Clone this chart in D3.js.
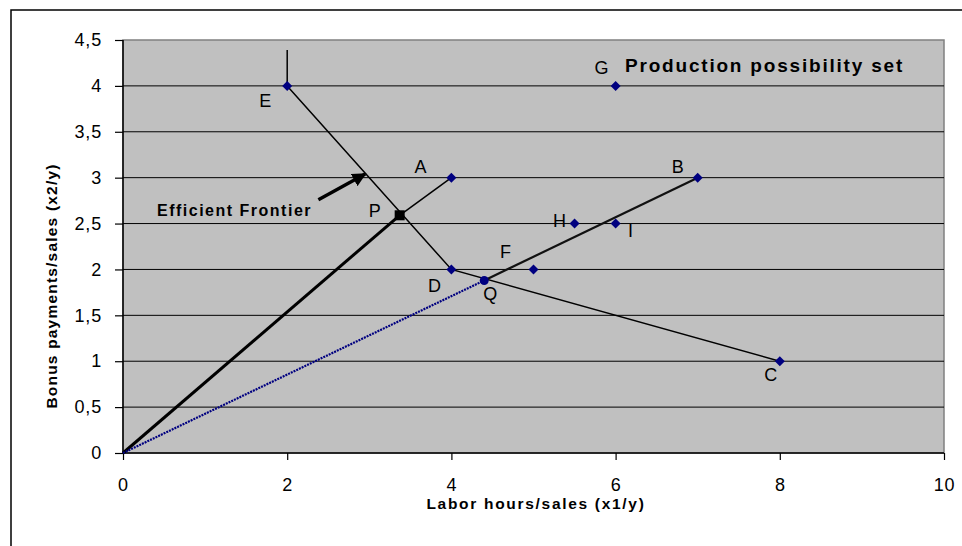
<!DOCTYPE html>
<html><head><meta charset="utf-8">
<script src="https://cdn.jsdelivr.net/npm/d3@7"></script>
<style>
body{margin:0;background:#fff;}
svg{display:block;font-family:"Liberation Sans",Arial,sans-serif;}
</style></head>
<body><svg id="chart" width="962" height="546"></svg>
<script>
// ---- data ----
const pointNames = ["A","B","C","D","E","F","G","H","I"];
const pointX = [4, 7, 8, 4, 2, 5, 6, 5.5, 6];
const pointY = [3, 3, 1, 2, 4, 2, 4, 2.5, 2.5];
const pX = 3.37, pY = 2.59;      // P
const qX = 4.40, qY = 1.88;      // Q
const eTopY = 4.39;              // vertical line above E
const frontierNames = ["E","D","C"];
const xTicks = [0,2,4,6,8,10];
const yTicks = [0,0.5,1,1.5,2,2.5,3,3.5,4,4.5];
const yTickLabels = ["0","0,5","1","1,5","2","2,5","3","3,5","4","4,5"];
const arrowFrom = [2.38, 2.76], arrowTo = [2.95, 3.04];

// ---- layout ----
const svg = d3.select("#chart");
const L = 123, R = 944, T = 40, B = 453;
const x = d3.scaleLinear().domain([0,10]).range([L,R]);
const y = d3.scaleLinear().domain([0,4.5]).range([B,T]);
const pt = n => { const i = pointNames.indexOf(n); return [pointX[i], pointY[i]]; };

// outer border
svg.append("rect").attr("x",11).attr("y",10).attr("width",1000).attr("height",600)
  .attr("fill","#fff").attr("stroke","#000").attr("stroke-width",1.5);

// plot area
svg.append("rect").attr("x",L).attr("y",T).attr("width",R-L).attr("height",B-T)
  .attr("fill","#c0c0c0").attr("stroke","#808080").attr("stroke-width",1.5);

// gridlines
svg.append("g").selectAll("line").data(yTicks.filter(v=>v>0 && v<4.5)).join("line")
  .attr("x1",L).attr("x2",R).attr("y1",d=>y(d)).attr("y2",d=>y(d))
  .attr("stroke","#000").attr("stroke-width",1);

// axes
const yAxis = d3.axisLeft(y).tickValues(yTicks).tickSize(8).tickPadding(13)
  .tickFormat((d,i)=>yTickLabels[i]);
const gy = svg.append("g").attr("transform",`translate(${L},0)`).call(yAxis);
const xAxis = d3.axisBottom(x).tickValues(xTicks).tickSize(7).tickPadding(18);
const gx = svg.append("g").attr("transform",`translate(0,${B})`).call(xAxis);
[gx,gy].forEach(g=>{
  g.select(".domain").attr("stroke","#000").attr("stroke-width",1.5);
  g.selectAll(".tick line").attr("stroke","#000").attr("stroke-width",1.2);
  g.selectAll(".tick text").attr("font-size",18).attr("fill","#000").attr("letter-spacing",0.8)
   .attr("font-family","Liberation Sans, Arial, sans-serif");
});
gx.select(".domain").attr("d",`M${L},0H${R}`);
gy.select(".domain").attr("d",`M0,${T}V${B}`);

// axis titles
svg.append("text").attr("x",536).attr("y",509).attr("text-anchor","middle")
  .attr("font-size",15.5).attr("font-weight","bold").attr("letter-spacing",1.7)
  .text("Labor hours/sales (x1/y)");
svg.append("text").attr("transform","translate(57,286) rotate(-90)").attr("text-anchor","middle")
  .attr("font-size",15.5).attr("font-weight","bold").attr("letter-spacing",1.2)
  .text("Bonus payments/sales (x2/y)");

// lines
const line = d3.line().x(d=>x(d[0])).y(d=>y(d[1]));
const E = pt("E");
svg.append("path").attr("d",line([[E[0],eTopY],E])).attr("stroke","#000").attr("stroke-width",1.5).attr("fill","none");
svg.append("path").attr("d",line(frontierNames.map(pt))).attr("stroke","#000").attr("stroke-width",1.5).attr("fill","none");
svg.append("path").attr("d",line([[pX,pY],pt("A")])).attr("stroke","#000").attr("stroke-width",1.5).attr("fill","none");
svg.append("path").attr("d",line([[0,0],[pX,pY]])).attr("stroke","#000").attr("stroke-width",3).attr("fill","none");
svg.append("path").attr("d",line([[0,0],[qX,qY]])).attr("stroke","#000080").attr("stroke-width",2.2)
  .attr("stroke-dasharray","2,1").attr("fill","none");
svg.append("path").attr("d",line([[qX,qY],pt("B")])).attr("stroke","#111").attr("stroke-width",2.2).attr("fill","none");

// markers
svg.append("g").selectAll("path").data(pointNames).join("path")
  .attr("d", d3.symbol().type(d3.symbolSquare).size(50))
  .attr("transform",(d,i)=>`translate(${x(pointX[i])},${y(pointY[i])}) rotate(45)`)
  .attr("fill","#000080");
svg.append("rect").attr("x",x(pX)-5).attr("y",y(pY)-5).attr("width",10).attr("height",10).attr("fill","#000");
svg.append("circle").attr("cx",x(qX)).attr("cy",y(qY)).attr("r",4.5).attr("fill","#000080");

// point labels (pixel offsets from their points)
const labelOffset = {A:[-31,-11],B:[-20,-11],C:[-9,14],D:[-17,17],E:[-22,15],F:[-28,-17],G:[-14,-18],H:[-15,-3],I:[15,7]};
svg.append("g").selectAll("text").data(pointNames).join("text")
  .attr("x",(d,i)=>x(pointX[i])+labelOffset[d][0])
  .attr("y",(d,i)=>y(pointY[i])+labelOffset[d][1])
  .attr("text-anchor","middle").attr("dominant-baseline","central")
  .attr("font-size",18).text(d=>d);
svg.append("text").attr("x",x(pX)-25).attr("y",y(pY)-4).attr("text-anchor","middle")
  .attr("dominant-baseline","central").attr("font-size",18).text("P");
svg.append("text").attr("x",x(qX)+6).attr("y",y(qY)+14).attr("text-anchor","middle")
  .attr("dominant-baseline","central").attr("font-size",18).text("Q");

// annotations
svg.append("defs").append("marker").attr("id","ah").attr("viewBox","0 0 10 10")
  .attr("refX",9).attr("refY",5).attr("markerWidth",4).attr("markerHeight",4).attr("orient","auto")
  .append("path").attr("d","M0,0L10,5L0,10z").attr("fill","#000");
svg.append("path").attr("d",line([arrowFrom,arrowTo])).attr("stroke","#000").attr("stroke-width",3.5)
  .attr("marker-end","url(#ah)").attr("fill","none");
svg.append("text").attr("x",157).attr("y",216).attr("font-size",16).attr("font-weight","bold")
  .attr("letter-spacing",1.5).text("Efficient Frontier");
svg.append("text").attr("x",625).attr("y",72).attr("font-size",19).attr("font-weight","bold")
  .attr("letter-spacing",1.8).text("Production possibility set");
</script></body></html>
